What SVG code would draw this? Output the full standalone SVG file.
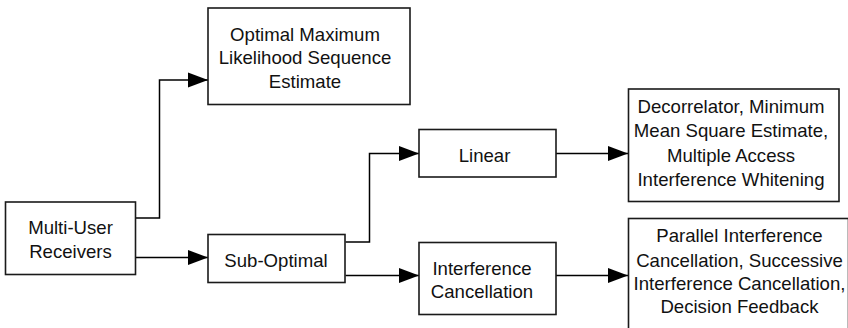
<svg xmlns="http://www.w3.org/2000/svg" width="848" height="328" viewBox="0 0 848 328">
  <defs>
    <marker id="arrow" markerUnits="userSpaceOnUse" markerWidth="21" markerHeight="16" refX="20" refY="8" orient="auto">
      <path d="M0,0.5 L20,8 L0,15.5 Z" fill="#000"/>
    </marker>
    <style>
      .box { fill: #fff; stroke: #1a1a1a; stroke-width: 1.6; }
      .lbl { font-family: "Liberation Sans", Arial, sans-serif; font-size: 18.6px; fill: #111; text-anchor: middle; }
      .edge { fill: none; stroke: #000; stroke-width: 1.5; marker-end: url(#arrow); }
    </style>
  </defs>
  <rect width="848" height="328" fill="#fff"/>

  <!-- connectors -->
  <g id="edges">
    <path class="edge" d="M135.5,218 H159.5 V80 H208"/>
    <path class="edge" d="M135.5,257.5 H208"/>
    <path class="edge" d="M345.5,242 H369.5 V153.5 H419"/>
    <path class="edge" d="M345.5,275.5 H419"/>
    <path class="edge" d="M556,153.5 H628"/>
    <path class="edge" d="M556,275.5 H628"/>
  </g>

  <g id="mud">
    <rect class="box" x="5.5" y="202" width="130" height="72.5"/>
    <text class="lbl" x="70.5" y="233.5">Multi-User</text>
    <text class="lbl" x="70.5" y="257.5">Receivers</text>
  </g>

  <g id="optimal">
    <rect class="box" x="208" y="8" width="202" height="96.5"/>
    <text class="lbl" x="305" y="40.5">Optimal Maximum</text>
    <text class="lbl" x="305" y="64">Likelihood Sequence</text>
    <text class="lbl" x="305" y="88.3">Estimate</text>
  </g>

  <g id="suboptimal">
    <rect class="box" x="208" y="234.5" width="137" height="48"/>
    <text class="lbl" x="276" y="266.7">Sub-Optimal</text>
  </g>

  <g id="linear">
    <rect class="box" x="419" y="129.5" width="137" height="47.5"/>
    <text class="lbl" x="484.5" y="161.7">Linear</text>
  </g>

  <g id="ic">
    <rect class="box" x="419" y="242.5" width="137" height="72"/>
    <text class="lbl" x="482" y="275">Interference</text>
    <text class="lbl" x="482" y="298.3">Cancellation</text>
  </g>

  <g id="linear-detectors">
    <rect class="box" x="628.5" y="89" width="210.5" height="112.5"/>
    <text class="lbl" x="731" y="113.3">Decorrelator, Minimum</text>
    <text class="lbl" x="731" y="137">Mean Square Estimate,</text>
    <text class="lbl" x="731" y="162">Multiple Access</text>
    <text class="lbl" x="731" y="185.7">Interference Whitening</text>
  </g>

  <g id="ic-detectors">
    <rect class="box" x="628.5" y="218.5" width="220" height="120"/>
    <text class="lbl" x="739.5" y="241.7">Parallel Interference</text>
    <text class="lbl" x="739.5" y="266.5">Cancellation, Successive</text>
    <text class="lbl" x="739.5" y="290">Interference Cancellation,</text>
    <text class="lbl" x="739.5" y="313.3">Decision Feedback</text>
  </g>
</svg>
